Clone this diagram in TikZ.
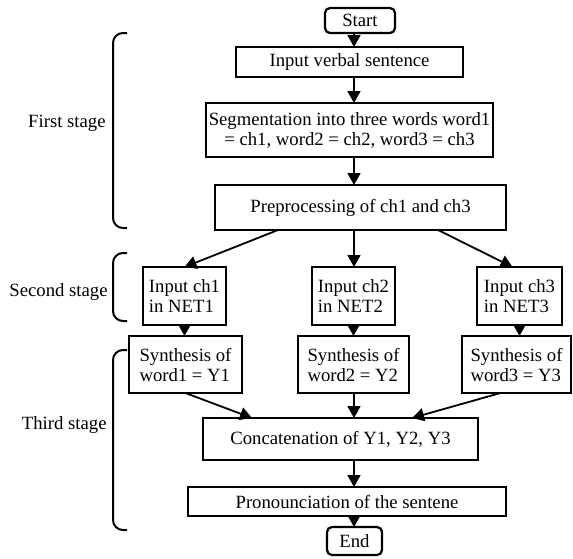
\documentclass[tikz,border=0pt]{standalone}
\usepackage{fontspec}
\setmainfont{Liberation Serif}
\usetikzlibrary{positioning,arrows.meta}

\tikzset{
  box/.style={draw, line width=1.1pt, outer sep=0pt, inner xsep=1pt, inner ysep=1pt, align=center,
    font=\fontsize{9.35}{10}\selectfont},
  term/.style={box, rounded corners=2.5pt},
  flow/.style={line width=0.9pt, -{Triangle[length=6pt,width=6.5pt]}},
  stagebrace/.style={line width=1pt, rounded corners=5pt},
  stagelabel/.style={anchor=east, inner sep=0pt, font=\fontsize{9.35}{10}\selectfont},
}

\begin{document}
\begin{tikzpicture}
\useasboundingbox (0,0) rectangle (286.5pt,-279pt);
% Nodes
% main column
\node[term, minimum width=35pt, minimum height=12.5pt](start) at (180pt,-10.25pt){Start};
\node[box, below = 7pt of start, xshift=-5.25pt, minimum width=113.5pt, minimum height=15pt](verbal){Input verbal sentence};
\node[box, below = 13pt of verbal, minimum width=143.5pt, minimum height=27pt](seg)
  {Segmentation into three words word1\\ = ch1, word2 = ch2, word3 = ch3};
\node[box, below = 14pt of seg, xshift=5.5pt, minimum width=145.5pt, minimum height=22.5pt](prep){Preprocessing of ch1 and ch3};
% three nets
\node[box, align=left, below = 18.5pt of prep, xshift=-3.5pt, minimum width=41.5pt, minimum height=29pt](in2){Input ch2\\in NET2};
\node[box, align=left, left = 43pt of in2, minimum width=41.5pt, minimum height=29pt](in1){Input ch1\\in NET1};
\node[box, align=left, right = 41pt of in2, minimum width=42.5pt, minimum height=29pt](in3){Input ch3\\in NET3};
\node[box, align=left, below = 5.5pt of in2, minimum width=55.5pt, minimum height=28.5pt](syn2){Synthesis of\\word2 = Y2};
\node[box, align=left, left = 28pt of syn2, minimum width=56.5pt, minimum height=28.5pt](syn1){Synthesis of\\word1 = Y1};
\node[box, align=left, right = 26.5pt of syn2, minimum width=54.5pt, minimum height=28.5pt](syn3){Synthesis of\\word3 = Y3};
% output
\node[box, below = 12.5pt of syn2, xshift=-6.5pt, minimum width=137.5pt, minimum height=21pt](concat){Concatenation of Y1, Y2, Y3};
\node[box, below = 13.5pt of concat, xshift=3.25pt, minimum width=159pt, minimum height=14.5pt](pron){Pronounciation of the sentene};
\node[term, below = 5.5pt of pron, xshift=3.75pt, minimum width=27.5pt, minimum height=14pt](end){End};

\coordinate (axis) at (177pt,0pt);

\draw[flow] (start.south -| axis) -- (verbal.north -| axis);
\draw[flow] (verbal.south -| axis) -- (seg.north -| axis);
\draw[flow] (seg.south -| axis) -- (prep.north -| axis);
\draw[flow] (prep.south -| axis) -- (in2.north -| axis);
\draw[flow] ([xshift=-41.25pt]prep.south) -- (in1.north);
\draw[flow] ([xshift=38.75pt]prep.south) -- ([xshift=-3.5pt]in3.north);
\foreach \i in {1,2,3}
  \draw[flow] (in\i.south) -- (in\i.south |- syn\i.north);
\draw[flow] (syn1.south) -- ([xshift=-44.25pt]concat.north);
\draw[flow] (syn2.south -| axis) -- (concat.north -| axis);
\draw[flow] ([xshift=-8pt]syn3.south) -- ([xshift=35.75pt]concat.north);
\draw[flow] (concat.south -| axis) -- (pron.north -| axis);
\draw[flow] (pron.south -| axis) -- (end.north -| axis);

% stages
\draw[stagebrace] (63.5pt,-16.5pt) -- (56.5pt,-16.5pt) -- (56.5pt,-114pt) -- (63.5pt,-114pt);
\draw[stagebrace] (63.5pt,-126.5pt) -- (56.5pt,-126.5pt) -- (56.5pt,-160.5pt) -- (63.5pt,-160.5pt);
\draw[stagebrace] (63.5pt,-175pt) -- (56.5pt,-175pt) -- (56.5pt,-265pt) -- (63.5pt,-265pt);
\node[stagelabel](first) at (53pt,-61.5pt){First stage};
\node[stagelabel](second) at (54pt,-146pt){Second stage};
\node[stagelabel](third) at (53.5pt,-212.5pt){Third stage};

\end{tikzpicture}
\end{document}
